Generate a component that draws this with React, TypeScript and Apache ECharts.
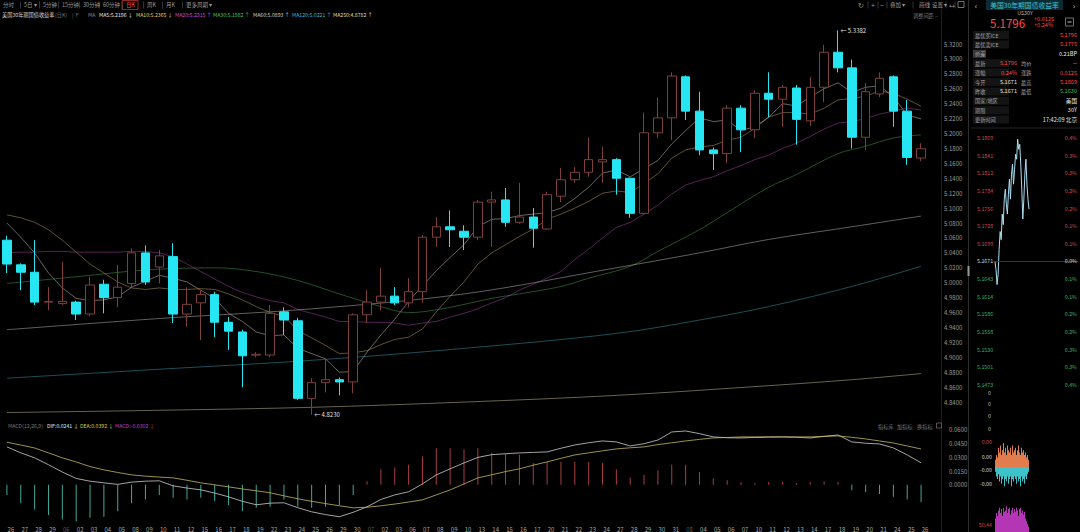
import React, { useEffect, useRef } from 'react';
import * as echarts from 'echarts';

// ---------- data ----------
const DATES = ['26','27','28','29','06','02','03','04','05','08','09','10','11','12','15','16','17','18','19','22','23','24','25','26','29','30','07','02','03','06','07','08','09','10','13','14','15','16','17','20','21','22','23','24','27','28','29','30','31','08','04','05','06','07','10','11','12','13','14','17','18','19','20','21','24','25','26'];
const MONTH_START = [4, 26, 49];

const OPEN = [5.057,5.024,5.014,4.974,4.972,4.974,4.958,4.998,4.980,4.999,5.040,5.021,5.035,4.958,4.973,4.984,4.947,4.934,4.903,4.903,4.961,4.949,4.845,4.866,4.870,4.867,4.957,4.974,4.982,4.973,4.988,5.061,5.075,5.069,5.061,5.108,5.111,5.081,5.088,5.072,5.116,5.138,5.148,5.162,5.165,5.140,5.093,5.201,5.221,5.276,5.230,5.178,5.173,5.234,5.205,5.254,5.246,5.261,5.217,5.262,5.309,5.288,5.195,5.253,5.276,5.230,5.1671];
const CLOSE = [5.025,5.014,4.974,4.975,4.975,4.958,4.997,4.980,4.994,5.040,5.001,5.036,4.958,4.971,4.984,4.947,4.935,4.902,4.904,4.959,4.950,4.845,4.866,4.870,4.867,4.957,4.974,4.982,4.973,4.988,5.061,5.075,5.071,5.061,5.108,5.111,5.081,5.088,5.073,5.118,5.138,5.148,5.165,5.165,5.140,5.093,5.201,5.221,5.277,5.230,5.178,5.173,5.234,5.205,5.254,5.246,5.262,5.219,5.262,5.309,5.288,5.195,5.256,5.274,5.230,5.168,5.1796];
const LOW = [5.013,4.990,4.970,4.963,4.970,4.950,4.955,4.959,4.967,4.994,4.997,4.999,4.946,4.941,4.923,4.927,4.910,4.860,4.900,4.900,4.930,4.843,4.823,4.853,4.849,4.852,4.946,4.963,4.970,4.967,4.973,5.048,5.048,5.044,5.057,5.048,5.075,5.079,5.047,5.071,5.108,5.134,5.142,5.134,5.118,5.087,5.091,5.194,5.191,5.218,5.171,5.151,5.160,5.175,5.194,5.222,5.209,5.185,5.210,5.242,5.282,5.180,5.178,5.249,5.209,5.158,5.1630];
const HIGH = [5.063,5.026,5.057,4.994,5.028,4.976,5.008,5.004,5.024,5.046,5.050,5.044,5.053,4.994,4.990,4.988,4.954,4.937,4.907,4.970,4.967,4.953,4.872,4.899,4.873,4.959,4.990,5.020,4.994,5.006,5.064,5.088,5.097,5.077,5.111,5.122,5.127,5.134,5.100,5.122,5.154,5.155,5.195,5.182,5.167,5.141,5.228,5.248,5.282,5.278,5.256,5.181,5.238,5.238,5.258,5.282,5.265,5.265,5.276,5.319,5.3382,5.299,5.268,5.282,5.278,5.245,5.1869];

const MA5 = [5.080,5.061,5.040,5.013,4.993,4.979,4.976,4.977,4.981,4.994,5.002,5.010,5.006,5.001,4.990,4.979,4.959,4.948,4.934,4.929,4.930,4.912,4.905,4.898,4.880,4.881,4.907,4.930,4.951,4.975,4.996,5.016,5.034,5.051,5.075,5.085,5.086,5.090,5.092,5.094,5.100,5.113,5.128,5.147,5.151,5.142,5.153,5.164,5.186,5.204,5.221,5.216,5.218,5.204,5.209,5.222,5.240,5.237,5.249,5.260,5.268,5.255,5.262,5.264,5.249,5.225,5.2196];
const MA10 = [5.091,5.087,5.081,5.071,5.057,5.041,5.025,5.013,5.001,4.993,4.991,4.993,4.991,4.991,4.992,4.991,4.985,4.977,4.968,4.960,4.955,4.936,4.926,4.916,4.905,4.906,4.909,4.917,4.924,4.927,4.938,4.961,4.982,5.001,5.025,5.040,5.051,5.062,5.072,5.085,5.092,5.100,5.109,5.120,5.123,5.121,5.133,5.146,5.167,5.178,5.182,5.184,5.191,5.195,5.207,5.222,5.228,5.228,5.226,5.234,5.245,5.247,5.250,5.257,5.254,5.246,5.2365];
const MA20 = [5.040,5.041,5.041,5.042,5.042,5.041,5.041,5.041,5.041,5.042,5.042,5.040,5.035,5.025,5.015,5.005,4.995,4.987,4.981,4.976,4.973,4.964,4.959,4.954,4.948,4.948,4.947,4.947,4.946,4.943,4.946,4.948,4.954,4.959,4.965,4.973,4.980,4.990,4.998,5.006,5.015,5.031,5.045,5.060,5.074,5.081,5.092,5.104,5.119,5.131,5.137,5.142,5.150,5.157,5.165,5.171,5.180,5.187,5.196,5.206,5.214,5.216,5.220,5.226,5.230,5.234,5.2315];
const MA30 = [[0,4.999],[5,5.008],[10,5.017],[15,5.020],[18,5.015],[21,5.003],[24,4.985],[27,4.968],[29,4.960],[30,4.961],[32,4.967],[35,4.979],[37,4.985],[40,4.995],[42,5.006],[45,5.022],[47,5.042],[50,5.071],[52,5.094],[55,5.128],[57,5.145],[60,5.173],[62,5.183],[64,5.194],[66,5.1982]];
const MA60 = [[0,4.937],[11,4.952],[22,4.965],[33,4.985],[44,5.020],[50,5.040],[55,5.058],[61,5.075],[66,5.0893]];
const MA120 = [[0,4.872],[11,4.884],[22,4.896],[33,4.912],[44,4.932],[50,4.950],[55,4.968],[61,4.995],[66,5.0221]];
const MA250 = [[0,4.826],[11,4.829],[22,4.833],[33,4.840],[44,4.849],[55,4.862],[61,4.870],[66,4.8782]];

const MA_NAMES = ['MA5','MA10','MA20','MA30','MA60','MA120','MA250'];
const MA_LAST = ['5.2196','5.2365','5.2315','5.1982','5.0893','5.0221','4.8782'];
const MA_ARROW = ['↓','↓','↑','↑','↑','↑','↑'];
const MA_COLORS = ['#e6e6e6','#e3cf55','#d34fd3','#49c94f','#cfcfcf','#3fb9cf','#e6dfa6'];
const MA_LINE_COLORS = ['#e2cfc8','#c9a96a','#b446b4','#4aa84f','#c8c8c8','#3aa6b8','#d8d0a0'];

const DIF = [0.0415,0.0350,0.0295,0.0220,0.0140,0.0070,0.0040,0.0022,0.0005,0.0030,0.0040,0.0044,-0.0011,-0.0035,-0.0055,-0.0090,-0.0131,-0.0180,-0.0218,-0.0200,-0.0196,-0.0250,-0.0295,-0.0325,-0.0349,-0.0300,-0.0240,-0.0160,-0.0110,-0.0076,0.0010,0.0109,0.0175,0.0240,0.0300,0.0330,0.0340,0.0349,0.0355,0.0360,0.0400,0.0436,0.0460,0.0480,0.0469,0.0425,0.0450,0.0490,0.0578,0.0589,0.0560,0.0524,0.0515,0.0513,0.0518,0.0522,0.0524,0.0520,0.0513,0.0530,0.0545,0.0469,0.0455,0.0447,0.0404,0.0327,0.0241];
const DEA = [0.0466,0.0435,0.0403,0.0350,0.0295,0.0250,0.0200,0.0164,0.0135,0.0109,0.0095,0.0085,0.0076,0.0050,0.0022,0.0000,-0.0022,-0.0045,-0.0065,-0.0087,-0.0120,-0.0153,-0.0180,-0.0205,-0.0229,-0.0251,-0.0245,-0.0229,-0.0210,-0.0188,-0.0164,-0.0110,-0.0055,0.0010,0.0076,0.0110,0.0145,0.0175,0.0215,0.0251,0.0290,0.0327,0.0350,0.0372,0.0393,0.0405,0.0415,0.0440,0.0460,0.0480,0.0497,0.0513,0.0518,0.0524,0.0524,0.0524,0.0524,0.0524,0.0524,0.0530,0.0535,0.0520,0.0502,0.0480,0.0458,0.0425,0.0392];
const HIST = [-0.011,-0.020,-0.027,-0.033,-0.038,-0.040,-0.036,-0.035,-0.029,-0.020,-0.016,-0.011,-0.014,-0.016,-0.014,-0.018,-0.022,-0.029,-0.025,-0.024,-0.016,-0.024,-0.025,-0.024,-0.022,-0.011,0.004,0.017,0.019,0.022,0.031,0.040,0.040,0.039,0.040,0.035,0.034,0.033,0.024,0.025,0.025,0.025,0.025,0.024,0.017,0.008,0.011,0.016,0.022,0.022,0.014,0.007,0.005,0.003,0.002,0.003,0.003,0.002,0.003,0.004,0.003,-0.006,-0.008,-0.010,-0.013,-0.016,-0.019];

// right panel intraday
const INTRA = [5.1671,5.1658,5.1634,5.1650,5.1690,5.1719,5.1706,5.1747,5.1730,5.1771,5.1787,5.1763,5.1747,5.1779,5.1803,5.1771,5.1811,5.1827,5.1795,5.1819,5.1843,5.1835,5.1867,5.1851,5.1859,5.1827,5.1787,5.1739,5.1771,5.1811,5.1835,5.1795,5.1771,5.1755];
const OSC_UP = [0.3,0.5,0.4,0.8,0.6,0.9,0.5,0.7,1.0,0.6,0.8,0.5,0.9,0.7,0.6,0.8,0.5,0.9,0.6,0.7,0.8,0.5,0.7,0.9,0.6,0.5,0.8,0.6,0.7,0.5,0.6,0.4,0.5,0.3];
const OSC_DN = [-0.2,-0.4,-0.5,-0.3,-0.6,-0.4,-0.7,-0.5,-0.4,-0.8,-0.5,-0.6,-0.4,-0.7,-0.5,-0.4,-0.8,-0.5,-0.6,-0.4,-0.5,-0.7,-0.4,-0.6,-0.5,-0.8,-0.4,-0.6,-0.5,-0.7,-0.4,-0.5,-0.3,-0.2];
const VOL = [0.5,0.7,0.6,0.8,0.9,0.7,0.85,0.6,0.9,0.75,0.8,0.95,0.7,0.85,0.9,0.65,0.8,0.9,0.7,0.85,0.75,0.9,0.8,0.6,0.85,0.9,0.7,0.8,0.65,0.75,0.5,0.4,0.3,0.2];
const INTRA_PRICE_LABELS = ['5.1869','5.1841','5.1812','5.1784','5.1756','5.1728','5.1699','5.1671','5.1643','5.1614','5.1586','5.1558','5.1530','5.1501','5.1473'];
const INTRA_PCT_LABELS = ['0.4%','0.3%','0.3%','0.2%','0.2%','0.1%','0.1%','0.0%','0.1%','0.1%','0.2%','0.2%','0.3%','0.3%','0.4%'];

const TOOLBAR = ['分时','5日 ▾','5分钟','15分钟','30分钟','60分钟','日K','周K','月K','更多周期 ▾'];
const QUOTE_TOP = [['最优买ICE','5.1796'],['最优卖ICE','5.1775'],['价差','0.21BP']];
const QUOTE_QUAD = [['最新','5.1796','均价','--'],['涨幅','0.24%','涨跌','0.0125'],['今开','5.1671','最高','5.1869'],['昨收','5.1671','最低','5.1630']];
const QUOTE_INFO = [['国家/地区','美国'],['期限','30Y'],['更新时间','17:42:09 北京']];

// ---------- helpers ----------
const FONT = '"Noto Sans CJK SC", "Noto Sans", sans-serif';
function txt(text: string, x: number, y: number, fill: string, size = 5.5, align = 'left', weight = 'normal') {
  return {
    type: 'text', silent: true, z: 50,
    style: { text, x, y, fill, fontSize: size, fontFamily: FONT, fontWeight: weight, textAlign: align, textVerticalAlign: 'middle', align, verticalAlign: 'middle' },
  };
}
function vline(x: number, y1: number, y2: number, stroke = '#2a2a2a') {
  return { type: 'line', silent: true, z: 40, shape: { x1: x, y1, x2: x, y2 }, style: { stroke, lineWidth: 1 } };
}
function hline(y: number, x1: number, x2: number, stroke = '#2a2a2a') {
  return { type: 'line', silent: true, z: 40, shape: { x1, y1: y, x2, y2: y }, style: { stroke, lineWidth: 1 } };
}
function rect(x: number, y: number, w: number, h: number, fill: string, stroke?: string) {
  return { type: 'rect', silent: true, z: 45, shape: { x, y, width: w, height: h }, style: { fill, stroke: stroke || 'none', lineWidth: 0.8 } };
}

function buildGraphics() {
  const g: any[] = [];
  // top toolbar
  const tbX = [3, 24, 43, 62, 83, 103, 126, 147, 166, 186];
  TOOLBAR.forEach((s, i) => {
    g.push(txt(s, tbX[i], 5, s === '日K' ? '#ff4a4a' : '#9a9a9a', 5.5));
    if (i > 0) g.push(vline(tbX[i] - 3.5, 1.5, 8.5, '#333'));
  });
  g.push(rect(122, 0.5, 16, 9, 'none', '#b83030'));
  // legend row
  g.push(txt('美国30年期国债收益率', 2, 14.5, '#d8d8d8', 5.2));
  g.push(txt('(日K)', 55, 14.5, '#7a7a7a', 5.2));
  g.push(txt('|  F', 72, 14.5, '#6a6a6a', 5.2));
  g.push(txt('MA', 88, 14.5, '#8a8a8a', 5.2));
  const maX = [99, 136, 175, 213, 253, 292, 333];
  MA_NAMES.forEach((n, i) => g.push(txt(`${n}:${MA_LAST[i]} ${MA_ARROW[i]}`, maX[i], 14.5, MA_COLORS[i], 5.2)));
  // top-right tools
  g.push(txt('↻', 858, 5, '#9a9a9a', 7));
  g.push(txt('+', 871, 5, '#9a9a9a', 7));
  g.push(txt('−', 880, 5, '#9a9a9a', 7));
  g.push(txt('叠加 ▾', 890, 5, '#9a9a9a', 5.5));
  g.push(txt('画线', 919, 5, '#9a9a9a', 5.5));
  g.push(txt('设置 ▾', 932, 5, '#9a9a9a', 5.5));
  g.push(txt('↔', 949, 5, '#9a9a9a', 6));
  g.push(rect(958, 1.5, 6, 6, 'none', '#8a8a8a'));
  [868, 878, 887, 913, 929, 946, 955].forEach((x) => g.push(vline(x, 1.5, 8.5, '#333')));
  g.push(txt('调整间距 −', 913, 15, '#7a7a7a', 5.2));
  // macd legend
  g.push(txt('MACD(12,26,9)', 8, 425, '#7a7a7a', 5.2));
  g.push(txt('DIF:0.0241 ↓', 47, 425, '#e0e0e0', 5.2));
  g.push(txt('DEA:0.0392 ↓', 80, 425, '#d6cc5c', 5.2));
  g.push(txt('MACD:-0.0302 ↓', 115, 425, '#c03fc0', 5.2));
  g.push(txt('指标库', 878, 426, '#7a7a7a', 5.2));
  g.push(txt('加指标', 897, 426, '#7a7a7a', 5.2));
  g.push(txt('换指标', 917, 426, '#7a7a7a', 5.2));
  g.push(rect(936.5, 423, 5, 5, 'none', '#6a6a6a'));
  // separators
  g.push(vline(941.5, 9, 532, '#1f1f1f'));
  g.push(vline(968.5, 0, 532, '#2e2e2e'));
  g.push(rect(967.5, 266, 2, 10, '#9a9a9a'));
  g.push(hline(128, 971, 1080, '#222'));
  // right panel header
  g.push(rect(986, 0, 77, 10, '#0c2c33'));
  g.push(txt('美国30年期国债收益率', 1024.5, 5, '#41c4d4', 6.8, 'center'));
  g.push(txt('‹', 976, 5, '#cfcfcf', 8, 'center'));
  g.push(txt('›', 1074, 5, '#cfcfcf', 8, 'center'));
  g.push(txt('US30Y', 1025, 12.5, '#bdbdbd', 5.3, 'center'));
  g.push(txt('5.1796', 990, 23, '#ff4a4a', 11.5));
  g.push(txt('+0.0125', 1034, 18.5, '#ff4a4a', 5.6));
  g.push(txt('+0.24%', 1034, 25, '#ff4a4a', 5.6));
  g.push(rect(1065.5, 18, 8, 8, 'none', '#8a8a8a'));
  g.push(hline(22, 1067.5, 1071.5, '#bbbbbb'));
  const rowY = (k: number) => 35 + k * 9.4;
  QUOTE_TOP.forEach((r, k) => {
    g.push(rect(973, rowY(k) - 4, k === 2 ? 13 : 36, 8, k === 2 ? '#3a3a3a' : '#141414'));
    g.push(txt(r[0], 975, rowY(k), '#a8a8a8', 5.2));
    g.push(txt(r[1], 1077, rowY(k), k === 2 ? '#e8e8e8' : '#ff4a4a', 5.6, 'right'));
  });
  const quadColors = [['#ff4a4a', '#d8d8d8'], ['#ff4a4a', '#ff4a4a'], ['#e8e8e8', '#ff4a4a'], ['#e8e8e8', '#3cc060']];
  QUOTE_QUAD.forEach((r, i) => {
    const y = rowY(3 + i);
    g.push(rect(973, y - 4, 36, 8, '#141414'));
    g.push(txt(r[0], 975, y, '#a8a8a8', 5.2));
    g.push(txt(r[1], 1017, y, quadColors[i][0], 5.6, 'right'));
    g.push(txt(r[2], 1021, y, '#a8a8a8', 5.2));
    g.push(txt(r[3], 1077, y, quadColors[i][1], 5.6, 'right'));
  });
  QUOTE_INFO.forEach((r, i) => {
    const y = rowY(7 + i);
    g.push(rect(973, y - 4, 36, 8, '#141414'));
    g.push(txt(r[0], 975, y, '#a8a8a8', 5.2));
    g.push(txt(r[1], 1077, y, '#e8e8e8', 5.6, 'right'));
  });
  // intraday labels
  INTRA_PRICE_LABELS.forEach((s, k) => {
    const y = 138 + k * 17.64;
    const c = k < 7 ? '#d84848' : k === 7 ? '#dcdcdc' : '#3cb860';
    g.push(txt(s, 977, y, c, 5.3));
    g.push(txt(INTRA_PCT_LABELS[k], 1077, y, c, 5.3, 'right'));
  });
  g.push(hline(261.5, 993, 1078, '#333'));
  [393, 404, 416, 429].forEach((y) => g.push(txt('0', 991, y, '#bdbdbd', 5.3, 'right')));
  g.push(txt('0.00', 992, 442, '#d84848', 5.3, 'right'));
  g.push(txt('0.00', 992, 457, '#dcdcdc', 5.3, 'right'));
  g.push(txt('-0.00', 992, 470, '#dcdcdc', 5.3, 'right'));
  g.push(txt('-0.00', 992, 484, '#dcdcdc', 5.3, 'right'));
  g.push(txt('50.44', 992, 525, '#d84848', 5.3, 'right'));
  return g;
}

const LINE_BASE = { type: 'line', showSymbol: false, symbol: 'none', silent: true, xAxisIndex: 0, yAxisIndex: 0 };

function buildOption() {
  const ohlc = OPEN.map((o, i) => [o, CLOSE[i], LOW[i], HIGH[i]]);
  const maSeries = [MA5, MA10, MA20, MA30, MA60, MA120, MA250].map((d, i) => ({
    ...LINE_BASE,
    name: MA_NAMES[i],
    data: d,
    smooth: i >= 3 ? 0.35 : false,
    lineStyle: { color: MA_LINE_COLORS[i], width: 0.8, opacity: 0.6 },
    z: 3,
  }));
  const idx34 = INTRA.map((_, i) => String(i));
  return {
    backgroundColor: '#000000',
    animation: false,
    textStyle: { fontFamily: FONT },
    grid: [
      { left: -2, top: 14.16, width: 930, height: 417.76 },
      { left: -2, top: 416.25, width: 930, height: 110 },
      { left: 995, top: 138, width: 34, height: 247 },
      { left: 995, top: 443, width: 34, height: 48 },
      { left: 995, top: 505, width: 34, height: 27 },
    ],
    xAxis: [
      { type: 'category', gridIndex: 0, data: DATES, boundaryGap: true, axisLine: { show: false }, axisTick: { show: false }, axisLabel: { show: false }, splitLine: { show: false } },
      {
        type: 'category', gridIndex: 1, data: DATES, boundaryGap: true,
        axisLine: { show: false }, axisTick: { show: false }, splitLine: { show: false },
        axisLabel: { show: true, interval: 0, margin: 0, fontSize: 6, padding: [0, 0, 0, 8], color: (_v: any, i: number) => (MONTH_START.includes(i) ? '#5a5a5a' : '#a8a8a8') },
      },
      { type: 'category', gridIndex: 2, data: idx34, boundaryGap: false, show: false },
      { type: 'category', gridIndex: 3, data: idx34, boundaryGap: true, show: false },
      { type: 'category', gridIndex: 4, data: idx34, boundaryGap: true, show: false },
    ],
    yAxis: [
      {
        type: 'value', gridIndex: 0, position: 'right', min: 4.8, max: 5.36, interval: 0.02,
        axisLine: { show: false }, axisTick: { show: false }, splitLine: { show: false },
        axisLabel: { margin: 16, fontSize: 6, color: '#9a9a9a', formatter: (v: number) => (v < 4.8399 || v > 5.3201 ? '' : v.toFixed(4)) },
      },
      {
        type: 'value', gridIndex: 1, position: 'right', min: -0.045, max: 0.075, interval: 0.015,
        axisLine: { show: false }, axisTick: { show: false }, splitLine: { show: false },
        axisLabel: { margin: 21, fontSize: 6, color: '#9a9a9a', formatter: (v: number) => (v < -0.0001 || v > 0.0601 ? '' : v.toFixed(4)) },
      },
      { type: 'value', gridIndex: 2, min: 5.1473, max: 5.1869, show: false, splitLine: { show: false } },
      { type: 'value', gridIndex: 3, min: -1, max: 1, show: false, splitLine: { show: false } },
      { type: 'value', gridIndex: 4, min: 0, max: 1, show: false, splitLine: { show: false } },
    ],
    series: [
      {
        type: 'candlestick', name: '日K', xAxisIndex: 0, yAxisIndex: 0, data: ohlc, barWidth: 9, z: 5,
        itemStyle: { color: '#000000', color0: '#27e6f4', borderColor: '#7e3f3d', borderColor0: '#27e6f4', borderWidth: 1 },
        markPoint: {
          symbol: 'circle', symbolSize: 1, silent: true,
          itemStyle: { color: 'rgba(0,0,0,0)' },
          label: { show: true, position: 'right', distance: 2, color: '#e0e0e0', fontSize: 6, formatter: '← {c}' },
          data: [
            { coord: [60, HIGH[60]], value: HIGH[60].toFixed(4) },
            { coord: [22, LOW[22]], value: LOW[22].toFixed(4) },
          ],
        },
      },
      ...maSeries,
      {
        type: 'bar', name: 'MACD', xAxisIndex: 1, yAxisIndex: 1, data: HIST, barWidth: 1, silent: true,
        itemStyle: { color: (p: any) => (p.value >= 0 ? '#a83f3f' : '#3fa89b') },
      },
      { type: 'line', name: 'DIF', xAxisIndex: 1, yAxisIndex: 1, data: DIF, showSymbol: false, symbol: 'none', lineStyle: { color: '#d6d6d6', width: 0.9, opacity: 0.85 } },
      { type: 'line', name: 'DEA', xAxisIndex: 1, yAxisIndex: 1, data: DEA, showSymbol: false, symbol: 'none', lineStyle: { color: '#cdbf62', width: 0.9, opacity: 0.85 } },
      { type: 'line', name: '分时', xAxisIndex: 2, yAxisIndex: 2, data: INTRA, showSymbol: false, symbol: 'none', lineStyle: { color: '#a9dcef', width: 1 } },
      { type: 'bar', xAxisIndex: 3, yAxisIndex: 3, data: OSC_UP, stack: 'osc', barWidth: 1, itemStyle: { color: '#e27c4c' } },
      { type: 'bar', xAxisIndex: 3, yAxisIndex: 3, data: OSC_DN, stack: 'osc', barWidth: 1, itemStyle: { color: '#3cc2c8' } },
      { type: 'bar', xAxisIndex: 4, yAxisIndex: 4, data: VOL, barWidth: 1, itemStyle: { color: '#d43fd4', opacity: 0.85 } },
    ],
    graphic: buildGraphics(),
  };
}

export default function App() {
  const ref = useRef<HTMLDivElement>(null);
  useEffect(() => {
    document.body.style.margin = '0';
    document.body.style.background = '#000';
    const chart = echarts.init(ref.current as HTMLDivElement, null, { renderer: 'svg' });
    chart.setOption(buildOption() as any);
    return () => chart.dispose();
  }, []);
  return <div ref={ref} style={{ width: 1080, height: 532, background: '#000' }} />;
}
